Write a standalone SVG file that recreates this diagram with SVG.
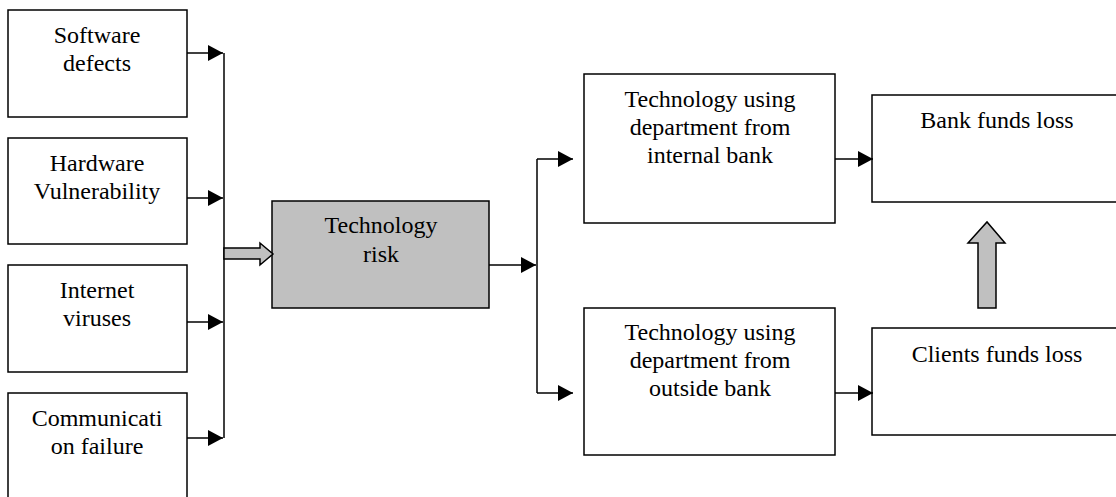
<svg xmlns="http://www.w3.org/2000/svg" width="1116" height="497" viewBox="0 0 1116 497">
<style>
.box{fill:#fff;stroke:#000;stroke-width:1.5}
.grey{fill:#c0c0c0;stroke:#000;stroke-width:1.5}
.t{font-family:"Liberation Serif","Times New Roman",serif;font-size:24px;fill:#000;text-anchor:middle}
.ln{fill:none;stroke:#000;stroke-width:1.5}
.blk{fill:#c0c0c0;stroke:#000;stroke-width:1.5;stroke-linejoin:miter}
</style>
<defs>
<marker id="ah" markerUnits="userSpaceOnUse" markerWidth="16" markerHeight="16" refX="15" refY="8" orient="auto">
<path d="M0,0 L15,8 L0,16 Z" fill="#000"/>
</marker>
</defs>
<rect width="1116" height="497" fill="#fff"/>
<g id="n-software">
<rect class="box" x="8" y="10" width="179" height="107"/>
<text class="t" x="97" y="43">Software</text>
<text class="t" x="97" y="71">defects</text>
</g>
<g id="n-hardware">
<rect class="box" x="8" y="138" width="179" height="106"/>
<text class="t" x="97" y="171">Hardware</text>
<text class="t" x="97" y="199">Vulnerability</text>
</g>
<g id="n-internet">
<rect class="box" x="8" y="265" width="179" height="107"/>
<text class="t" x="97" y="298">Internet</text>
<text class="t" x="97" y="326">viruses</text>
</g>
<g id="n-comm">
<rect class="box" x="8" y="393" width="179" height="110"/>
<text class="t" x="97" y="426">Communicati</text>
<text class="t" x="97" y="454">on failure</text>
</g>
<g id="n-techrisk">
<rect class="grey" x="272" y="201" width="217" height="107"/>
<text class="t" x="381" y="233">Technology</text>
<text class="t" x="381" y="262">risk</text>
</g>
<g id="n-internal">
<rect class="box" x="584" y="74" width="251" height="149"/>
<text class="t" x="710" y="107">Technology using</text>
<text class="t" x="710" y="135">department from</text>
<text class="t" x="710" y="163">internal bank</text>
</g>
<g id="n-outside">
<rect class="box" x="584" y="308" width="251" height="147"/>
<text class="t" x="710" y="340">Technology using</text>
<text class="t" x="710" y="368">department from</text>
<text class="t" x="710" y="396">outside bank</text>
</g>
<g id="n-bankloss">
<rect class="box" x="872" y="95" width="260" height="107"/>
<text class="t" x="997" y="128">Bank funds loss</text>
</g>
<g id="n-clientloss">
<rect class="box" x="872" y="328" width="260" height="107"/>
<text class="t" x="997" y="362">Clients funds loss</text>
</g>
<g id="connectors">
<line class="ln" x1="187" y1="53" x2="223" y2="53" marker-end="url(#ah)"/>
<line class="ln" x1="187" y1="198" x2="223" y2="198" marker-end="url(#ah)"/>
<line class="ln" x1="187" y1="322" x2="223" y2="322" marker-end="url(#ah)"/>
<line class="ln" x1="187" y1="438" x2="223" y2="438" marker-end="url(#ah)"/>
<line class="ln" x1="224" y1="53" x2="224" y2="438"/>
<path class="blk" d="M224,248 L260,248 L260,243 L273,254 L260,265 L260,259 L224,259 Z"/>
<line class="ln" x1="489" y1="265" x2="536" y2="265" marker-end="url(#ah)"/>
<line class="ln" x1="537" y1="159" x2="537" y2="393"/>
<line class="ln" x1="537" y1="159" x2="573" y2="159" marker-end="url(#ah)"/>
<line class="ln" x1="537" y1="393" x2="573" y2="393" marker-end="url(#ah)"/>
<line class="ln" x1="835" y1="159" x2="873" y2="159" marker-end="url(#ah)"/>
<line class="ln" x1="835" y1="393" x2="873" y2="393" marker-end="url(#ah)"/>
<path class="blk" d="M978,308 L978,243 L968,243 L987,222 L1005,243 L996,243 L996,308 Z"/>
</g>
</svg>
